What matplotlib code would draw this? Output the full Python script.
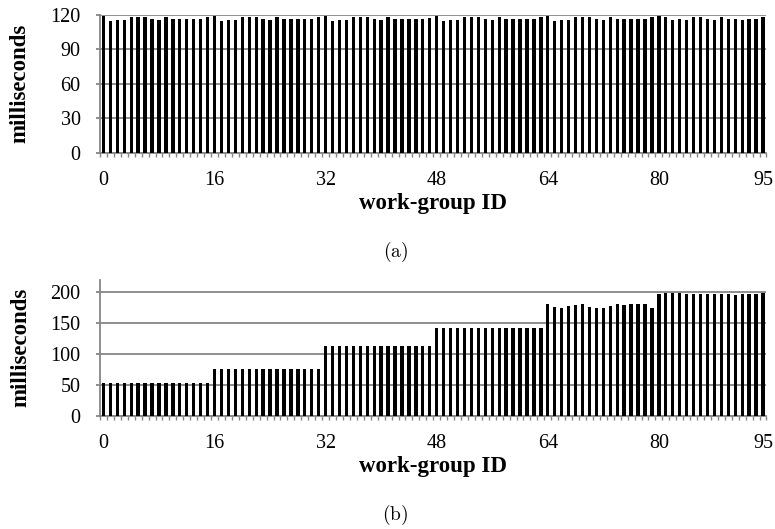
import numpy as np
import matplotlib.pyplot as plt

plt.rcParams['font.family'] = ['Liberation Serif', 'DejaVu Serif']
plt.rcParams['mathtext.fontset'] = 'cm'

# work-group ids 0..95
wg = np.arange(96)

# (a) per work-group time, ms
times_a = [119.4, 115.0, 115.3, 115.3, 118.5, 118.5, 118.5, 116.8, 115.3, 118.5, 116.2, 116.2, 116.2, 116.2, 116.2, 117.9,
           119.4, 115.0, 115.3, 115.3, 118.5, 118.5, 118.5, 116.8, 115.3, 118.5, 116.2, 116.2, 116.2, 116.2, 116.2, 117.9,
           119.4, 115.0, 115.3, 115.3, 118.5, 118.5, 118.5, 116.8, 115.3, 118.5, 116.2, 116.2, 116.2, 116.2, 116.2, 117.6,
           119.4, 115.0, 115.3, 115.3, 118.5, 118.5, 118.5, 116.8, 115.3, 118.5, 116.2, 116.2, 116.2, 116.2, 116.2, 117.9,
           119.4, 115.0, 115.3, 115.3, 118.5, 118.5, 118.5, 116.8, 115.3, 118.5, 116.2, 116.2, 116.2, 116.2, 116.2, 117.9,
           119.4, 118.5, 115.3, 116.2, 115.3, 118.5, 118.5, 116.2, 115.3, 118.5, 116.2, 116.2, 115.3, 116.8, 116.2, 117.9]

# (b) per work-group time, ms
times_b = [52] * 16 + [75] * 16 + [112.5] * 16 + [142] * 16 + \
          [179.6, 174.7, 173.7, 177.4, 178.0, 180.6, 174.7, 174.2, 174.2, 177.4, 180.6, 178.5, 179.6, 179.6, 179.6, 174.2] + \
          [196.2, 197.3, 197.3, 197.3, 196.2, 196.2, 196.8, 196.8, 196.8, 196.8, 196.2, 195.2, 196.8, 196.8, 196.2, 198.3]

xt = [0, 16, 32, 48, 64, 80, 95]
gray = '#868686'

fig = plt.figure(figsize=(7.75, 5.29), dpi=100)
ax1 = fig.add_axes([0.129, 0.7113, 0.86, 0.2603])
ax2 = fig.add_axes([0.129, 0.2142, 0.86, 0.2565])


def style(ax, vals, ylim, yt):
    ax.set_axisbelow(True)
    ax.bar(wg, vals, width=0.48, color='black', zorder=3)
    ax.set_xlim(-0.5, 95.5)
    ax.set_ylim(*ylim)
    ax.set_yticks(yt)
    ax.yaxis.grid(True, color=gray, linewidth=1.3)
    ax.set_xticks(xt)
    ax.set_xticks(np.arange(-0.5, 96, 1), minor=True)
    ax.tick_params(axis='x', which='major', length=0, labelsize=14.5, pad=13)
    ax.tick_params(axis='x', which='minor', length=3, color=gray, width=1)
    ax.tick_params(axis='y', length=3, color=gray, width=1.3, labelsize=14.5, pad=11)
    for s in ['top', 'right']:
        ax.spines[s].set_visible(False)
    for s in ['left', 'bottom']:
        ax.spines[s].set_color(gray)
        ax.spines[s].set_linewidth(1.3)
    ax.set_ylabel('milliseconds', fontsize=16.5, fontweight='bold', labelpad=14)
    ax.set_xlabel('work-group ID', fontsize=16.5, fontweight='bold', labelpad=2)


style(ax1, times_a, (0, 120), [0, 30, 60, 90, 120])
style(ax2, times_b, (0, 219), [0, 50, 100, 150, 200])

fig.text(0.51, 0.524, r'$\mathrm{(a)}$', ha='center', va='center', fontsize=14)
fig.text(0.51, 0.027, r'$\mathrm{(b)}$', ha='center', va='center', fontsize=14)

fig.savefig('out.png', dpi=100)
